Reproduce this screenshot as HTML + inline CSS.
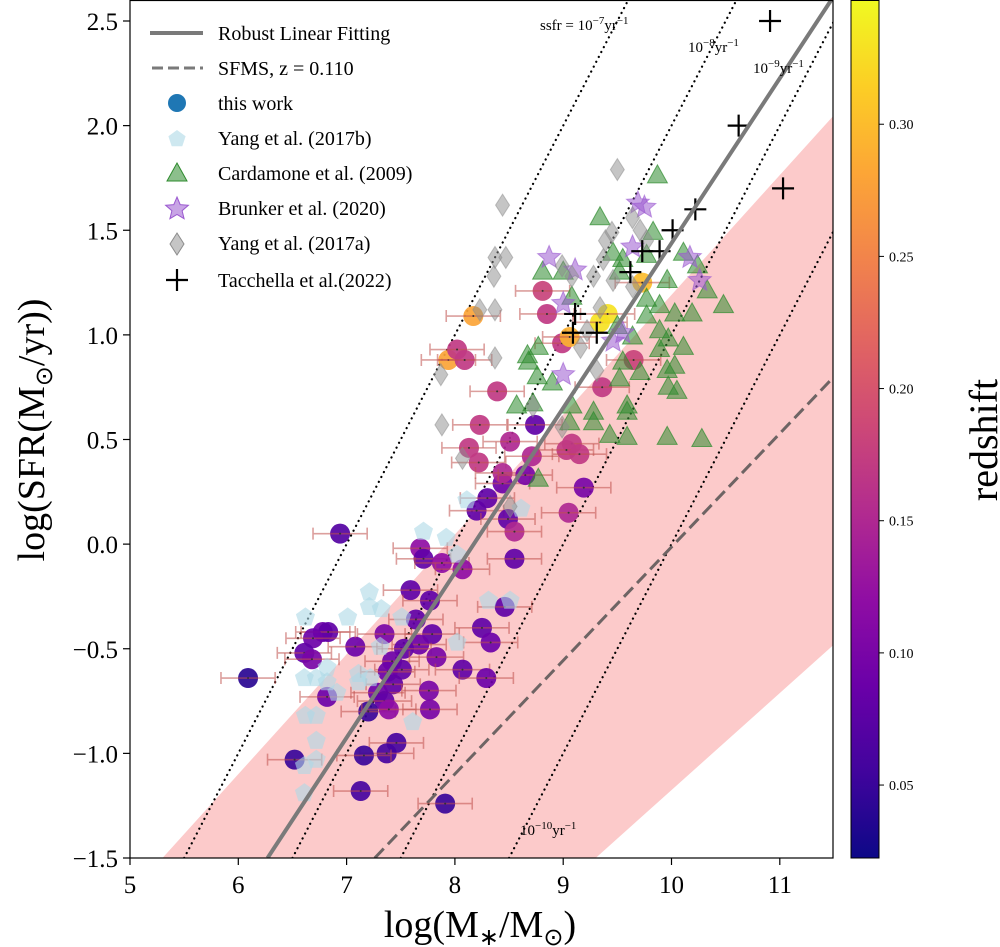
<!DOCTYPE html>
<html><head><meta charset="utf-8"><style>
html,body{margin:0;padding:0;background:#fff;}
svg{display:block;font-family:"Liberation Serif",serif;}
</style></head><body>
<svg id="chart" width="1000" height="947" viewBox="0 0 1000 947" xmlns="http://www.w3.org/2000/svg">
<defs><clipPath id="plotclip"><rect x="130" y="0" width="703" height="858"/></clipPath>
<linearGradient id="plasma" x1="0" y1="1" x2="0" y2="0">
<stop offset="0" stop-color="#0d0887"/><stop offset="0.1" stop-color="#41049d"/><stop offset="0.2" stop-color="#6a00a8"/><stop offset="0.3" stop-color="#8f0da4"/><stop offset="0.4" stop-color="#b12a90"/><stop offset="0.5" stop-color="#cc4778"/><stop offset="0.6" stop-color="#e16462"/><stop offset="0.7" stop-color="#f2844b"/><stop offset="0.8" stop-color="#fca636"/><stop offset="0.9" stop-color="#fcce25"/><stop offset="1" stop-color="#f0f921"/>
</linearGradient></defs>
<g id="plot" clip-path="url(#plotclip)"></g>
<g id="axes"></g>
</svg>
<script>
// ---- data ----
const xTicks = [5,6,7,8,9,10,11];
const yTicks = [-1.5,-1.0,-0.5,0.0,0.5,1.0,1.5,2.0,2.5];
const yTickLabels = ["\u22121.5","\u22121.0","\u22120.5","0.0","0.5","1.0","1.5","2.0","2.5"];
const cbTicks = [0.05,0.10,0.15,0.20,0.25,0.30];
const fitLine = [[6.27,-1.5],[11.5,2.62]];
const sfmsLine = [[7.26,-1.5],[11.5,0.8]];
const bandUpper = [[5.3,-1.5],[11.5,2.05]];
const bandLower = [[9.3,-1.5],[11.5,-0.48]];
const ssfrLevels = [-7,-8,-9,-10];

const workX = [6.94,6.09,8.30,8.20,8.44,8.49,8.55,7.68,7.71,7.88,8.07,8.55,7.59,7.77,7.64,8.46,8.25,8.33,7.79,7.67,7.53,7.35,7.08,6.78,6.83,6.69,6.61,6.68,7.83,7.42,7.51,7.38,8.07,8.29,7.43,7.76,7.29,7.35,7.20,7.39,7.77,6.82,7.46,7.37,7.16,6.52,7.13,7.91,8.17,7.94,8.02,8.09,8.81,8.85,8.39,8.99,9.06,9.34,9.41,9.73,9.65,9.36,8.23,8.13,8.22,8.51,8.74,8.71,8.44,8.65,9.08,9.03,9.15,9.19,9.05];
const workY = [0.05,-0.64,0.22,0.16,0.29,0.12,0.06,-0.02,-0.07,-0.09,-0.12,-0.07,-0.22,-0.27,-0.36,-0.30,-0.40,-0.47,-0.43,-0.48,-0.50,-0.43,-0.49,-0.42,-0.42,-0.45,-0.52,-0.55,-0.54,-0.56,-0.60,-0.61,-0.60,-0.64,-0.67,-0.70,-0.71,-0.75,-0.80,-0.79,-0.79,-0.73,-0.95,-1.00,-1.01,-1.03,-1.18,-1.24,1.09,0.88,0.93,0.88,1.21,1.10,0.73,0.96,0.99,1.06,1.10,1.25,0.88,0.75,0.57,0.46,0.39,0.49,0.57,0.42,0.34,0.33,0.48,0.45,0.43,0.27,0.15];
const workZ = [0.07,0.04,0.08,0.08,0.09,0.08,0.15,0.12,0.08,0.12,0.12,0.08,0.08,0.08,0.08,0.08,0.08,0.09,0.08,0.09,0.08,0.10,0.09,0.09,0.08,0.09,0.08,0.10,0.10,0.09,0.08,0.09,0.08,0.09,0.08,0.10,0.09,0.08,0.05,0.12,0.10,0.09,0.06,0.06,0.05,0.05,0.06,0.05,0.28,0.28,0.17,0.17,0.18,0.17,0.17,0.17,0.29,0.33,0.33,0.30,0.18,0.17,0.17,0.17,0.17,0.15,0.08,0.15,0.15,0.10,0.17,0.17,0.17,0.10,0.15];
const workXErr = 0.25;

const yangbX = [8.11,8.61,7.71,7.92,8.02,7.21,7.21,7.32,7.01,6.62,7.51,8.31,8.51,8.02,6.82,6.61,6.72,6.82,6.91,7.11,7.11,7.22,7.31,6.62,6.72,6.72,7.61,6.72,6.61,6.61];
const yangbY = [0.21,0.17,0.06,0.03,-0.05,-0.23,-0.30,-0.31,-0.35,-0.35,-0.35,-0.27,-0.27,-0.47,-0.59,-0.64,-0.64,-0.66,-0.71,-0.62,-0.66,-0.64,-0.49,-0.82,-0.82,-0.94,-0.85,-1.03,-1.06,-1.19];

const cardX = [9.87,9.34,9.83,9.46,9.55,9.77,10.11,8.81,9.00,9.52,9.96,10.33,10.48,9.08,9.77,9.89,10.03,10.19,9.77,9.50,9.64,9.89,9.97,10.11,9.89,8.67,8.77,8.68,9.55,9.71,9.96,10.03,8.76,8.90,9.52,9.97,10.05,8.57,8.72,9.08,9.28,9.59,9.59,9.06,9.28,9.43,9.59,9.96,10.28,8.77,10.24];
const cardY = [1.76,1.56,1.49,1.39,1.36,1.38,1.39,1.30,1.30,1.30,1.26,1.21,1.14,1.18,1.17,1.14,1.10,1.10,1.09,1.04,0.99,1.02,0.98,0.94,0.93,0.90,0.94,0.87,0.87,0.82,0.83,0.85,0.80,0.77,0.79,0.75,0.73,0.66,0.67,0.66,0.63,0.66,0.63,0.58,0.58,0.52,0.51,0.51,0.50,0.31,1.33];

const brunkerX = [9.69,9.75,8.87,9.11,9.64,10.17,10.26,9.00,9.55,9.46,9.00];
const brunkerY = [1.63,1.61,1.37,1.31,1.42,1.37,1.26,1.15,1.01,0.97,0.81];

const yangaX = [9.50,8.44,8.37,8.47,8.36,8.23,8.37,7.87,8.37,7.88,8.07,9.45,9.39,9.64,9.71,9.77,8.99,9.08,9.28,9.37,9.46,9.64,9.34,9.22,9.16,9.31,8.72,8.99,8.51];
const yangaY = [1.79,1.62,1.37,1.37,1.28,1.12,1.12,0.81,0.89,0.57,0.41,1.49,1.45,1.56,1.50,1.45,1.33,1.28,1.28,1.36,1.26,1.23,1.13,1.02,0.94,0.83,0.66,0.56,0.18];

const tacX = [10.91,10.62,11.03,10.22,10.01,9.89,9.73,9.62,9.11,9.09,9.31];
const tacY = [2.50,2.00,1.70,1.60,1.50,1.40,1.40,1.30,1.10,1.01,1.01];

// ---- scales ----
const X0=130, X1=833, Y0=858, Y1=0;
const sx = v => 130 + (v-5)*108.3;
const sy = v => 858 - (v+1.5)*209.25;
const zmin=0.0224, zmax=0.347;
const cbY = z => 858 - (z-zmin)/(zmax-zmin)*858;
const stops=["#0d0887","#41049d","#6a00a8","#8f0da4","#b12a90","#cc4778","#e16462","#f2844b","#fca636","#fcce25","#f0f921"];
function hex(h){return [1,3,5].map(i=>parseInt(h.substr(i,2),16));}
function plasma(z){let t=Math.max(0,Math.min(1,(z-zmin)/(zmax-zmin)))*10;let i=Math.min(9,Math.floor(t)),f=t-i;const a=hex(stops[i]),b=hex(stops[i+1]);return "rgb("+a.map((v,k)=>Math.round(v+(b[k]-v)*f)).join(",")+")";}

const NS="http://www.w3.org/2000/svg";
const plot=document.getElementById('plot');
const axes=document.getElementById('axes');
function mk(tag,attrs,parent){const e=document.createElementNS(NS,tag);for(const k in attrs)e.setAttribute(k,attrs[k]);parent.appendChild(e);return e;}

// band
const band=mk('polygon',{points:[bandUpper[0],bandUpper[1],bandLower[1],bandLower[0]].map(p=>sx(p[0])+","+sy(p[1])).join(" "),fill:"#fccaca"},plot);



// ssfr lines
ssfrLevels.forEach(l=>{
  const ln=mk('line',{x1:sx(-1.5-l),y1:sy(-1.5),x2:sx(2.7-l),y2:sy(2.7),stroke:"#000","stroke-width":2.2,"stroke-dasharray":"0.1 5.4","stroke-linecap":"round"},plot);
  
  
});

// sfms
const sf=mk('line',{x1:sx(sfmsLine[0][0]),y1:sy(sfmsLine[0][1]),x2:sx(sfmsLine[1][0]),y2:sy(sfmsLine[1][1]),stroke:"#6e6464","stroke-width":3,"stroke-dasharray":"13 6"},plot);



// this work
workX.forEach((x,i)=>{
  const g=mk('g',{},plot);
  
  
  const cx=sx(x),cy=sy(workY[i]);
  mk('circle',{cx:cx,cy:cy,r:10,fill:plasma(workZ[i]),"fill-opacity":0.92},g);
  const x1=sx(x-workXErr),x2=sx(x+workXErr);
  mk('path',{d:`M${x1},${cy}H${x2}M${x1},${cy-6}V${cy+6}M${x2},${cy-6}V${cy+6}`,stroke:"#c0504d","stroke-width":1.6,"stroke-opacity":0.55,fill:"none"},g);
  mk('circle',{cx:cx,cy:cy,r:1,fill:"#333"},g);
});

function pent(cx,cy,r){let p=[];for(let k=0;k<5;k++){const a=-Math.PI/2+k*2*Math.PI/5;p.push((cx+r*Math.cos(a)).toFixed(1)+","+(cy+r*Math.sin(a)).toFixed(1));}return p.join(" ");}
function star(cx,cy,r){let p=[];for(let k=0;k<10;k++){const a=-Math.PI/2+k*Math.PI/5;const rr=k%2?r*0.45:r;p.push((cx+rr*Math.cos(a)).toFixed(1)+","+(cy+rr*Math.sin(a)).toFixed(1));}return p.join(" ");}

yangbX.forEach((x,i)=>{
  const e=mk('polygon',{points:pent(sx(x),sy(yangbY[i]),10),fill:"#add8e6","fill-opacity":0.6},plot);
  
  
});
cardX.forEach((x,i)=>{
  const cx=sx(x),cy=sy(cardY[i]);
  const e=mk('polygon',{points:`${cx},${cy-11} ${cx+10},${cy+7} ${cx-10},${cy+7}`,fill:"#2e8b2e","fill-opacity":0.55,stroke:"#2e8b2e","stroke-opacity":0.7,"stroke-width":1},plot);
  
  
});
brunkerX.forEach((x,i)=>{
  const e=mk('polygon',{points:star(sx(x),sy(brunkerY[i]),12),fill:"#9b59d0","fill-opacity":0.55,stroke:"#9b59d0","stroke-opacity":0.6},plot);
  
  
});
yangaX.forEach((x,i)=>{
  const cx=sx(x),cy=sy(yangaY[i]);
  const e=mk('polygon',{points:`${cx},${cy-11} ${cx+7},${cy} ${cx},${cy+11} ${cx-7},${cy}`,fill:"#8c8c8c","fill-opacity":0.5,stroke:"#8c8c8c","stroke-opacity":0.5},plot);
  
  
});
tacX.forEach((x,i)=>{
  const cx=sx(x),cy=sy(tacY[i]);
  const e=mk('path',{d:`M${cx-11},${cy}H${cx+11}M${cx},${cy-11}V${cy+11}`,stroke:"#000","stroke-width":2.2},plot);
  
  
});

// fit line
const fl=mk('line',{x1:sx(fitLine[0][0]),y1:sy(fitLine[0][1]),x2:sx(fitLine[1][0]),y2:sy(fitLine[1][1]),stroke:"#7a7a7a","stroke-width":4},plot);



// ssfr labels
function txt(x,y,s,attrs,parent,name){const t=mk('text',Object.assign({x:x,y:y},attrs||{}),parent);t.innerHTML=s;return t;}
txt(540,30,'ssfr = 10<tspan dy="-6" font-size="11">\u22127</tspan><tspan dy="6">yr</tspan><tspan dy="-6" font-size="11">\u22121</tspan>',{"font-size":15},plot,'ssfr-label-7');
txt(688,52,'10<tspan dy="-6" font-size="11">\u22128</tspan><tspan dy="6">yr</tspan><tspan dy="-6" font-size="11">\u22121</tspan>',{"font-size":15},plot,'ssfr-label-8');
txt(753,73,'10<tspan dy="-6" font-size="11">\u22129</tspan><tspan dy="6">yr</tspan><tspan dy="-6" font-size="11">\u22121</tspan>',{"font-size":15},plot,'ssfr-label-9');
txt(520,835,'10<tspan dy="-6" font-size="11">\u221210</tspan><tspan dy="6">yr</tspan><tspan dy="-6" font-size="11">\u22121</tspan>',{"font-size":15},plot,'ssfr-label-10');

// legend
const lg=mk('g',{},axes);


const legY=[33,68,103,138,173,208,243,280];
const legText=["Robust Linear Fitting","SFMS, z = 0.110","this work","Yang et al. (2017b)","Cardamone et al. (2009)","Brunker et al. (2020)","Yang et al. (2017a)","Tacchella et al.(2022)"];
mk('line',{x1:150,y1:33,x2:203,y2:33,stroke:"#7a7a7a","stroke-width":4},lg);
mk('line',{x1:152,y1:68,x2:203,y2:68,stroke:"#7a7a7a","stroke-width":3,"stroke-dasharray":"11 5"},lg);
mk('circle',{cx:177,cy:103,r:9,fill:"#1f77b4"},lg);
mk('polygon',{points:pent(177,139,9),fill:"#add8e6","fill-opacity":0.6},lg);
mk('polygon',{points:"177,163 187,181 167,181",fill:"#2e8b2e","fill-opacity":0.55,stroke:"#2e8b2e"},lg);
mk('polygon',{points:star(177,209,12),fill:"#9b59d0","fill-opacity":0.55,stroke:"#9b59d0"},lg);
mk('polygon',{points:"177,233 184,244 177,255 170,244",fill:"#8c8c8c","fill-opacity":0.5,stroke:"#8c8c8c"},lg);
mk('path',{d:"M166,280H188M177,269V291",stroke:"#000","stroke-width":2.2},lg);
legText.forEach((s,i)=>{txt(218,legY[i]+7,s,{"font-size":20},lg,'legend-entry');});

// frame
const fr=mk('rect',{x:130,y:0.5,width:703,height:857.5,fill:"none",stroke:"#000","stroke-width":1.2},axes);


xTicks.forEach(v=>{
  mk('line',{x1:sx(v),y1:858,x2:sx(v),y2:865,stroke:"#000","stroke-width":1.2},axes);
  txt(sx(v),893,String(v),{"font-size":25,"text-anchor":"middle"},axes,'x-tick-label');
});
yTicks.forEach((v,i)=>{
  mk('line',{x1:123,y1:sy(v),x2:130,y2:sy(v),stroke:"#000","stroke-width":1.2},axes);
  txt(118,sy(v)+9,yTickLabels[i],{"font-size":25,"text-anchor":"end"},axes,'y-tick-label');
});
txt(480,937,'log(M<tspan dy="8" font-size="24">\u2217</tspan><tspan dy="-8">/M</tspan><tspan dy="8" font-size="24">\u2299</tspan><tspan dy="-8">)</tspan>',{"font-size":38,"text-anchor":"middle"},axes,'x-axis-title');
txt(0,0,'log(SFR(M<tspan dy="8" font-size="24">\u2299</tspan><tspan dy="-8">/yr))</tspan>',{"font-size":38,"text-anchor":"middle",transform:"translate(44,430) rotate(-90)"},axes,'y-axis-title');

// colorbar
const cb=mk('rect',{x:851,y:0.5,width:28,height:857.5,fill:"url(#plasma)",stroke:"#000","stroke-width":1},axes);


cbTicks.forEach(v=>{
  mk('line',{x1:879,y1:cbY(v),x2:884,y2:cbY(v),stroke:"#000","stroke-width":1},axes);
  txt(889,cbY(v)+5,v.toFixed(2),{"font-size":14},axes,'colorbar-tick-label');
});
txt(0,0,'redshift',{"font-size":40,"text-anchor":"middle",transform:"translate(997,440) rotate(-90)"},axes,'colorbar-title');
</script>
</body></html>
